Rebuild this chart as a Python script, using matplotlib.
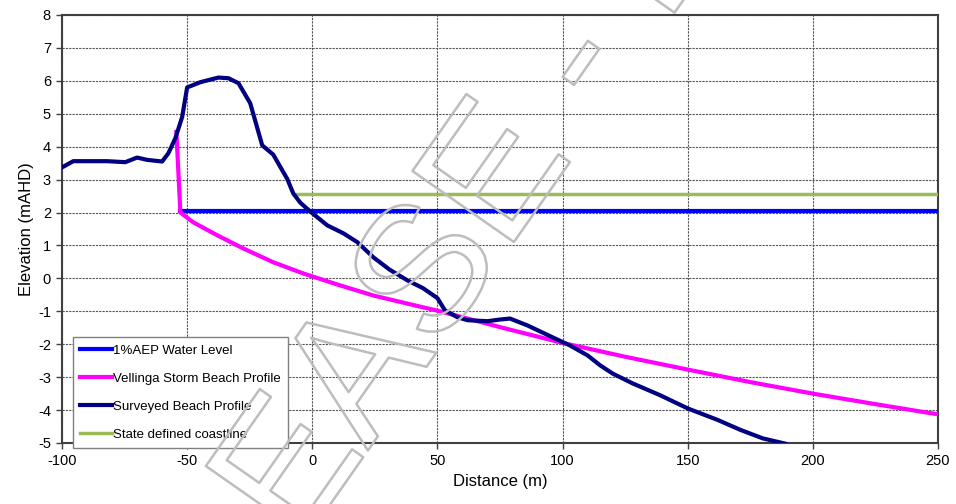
import matplotlib
matplotlib.use("Agg")
import matplotlib.pyplot as plt
import matplotlib.patheffects as pe

plt.rcParams['font.family'] = ['Liberation Sans', 'DejaVu Sans']
plt.rcParams['axes.unicode_minus'] = False

# 1% AEP storm water level and the state coastline (flat levels)
aep_x = [-52.7, 250]
aep_y = [2.05, 2.05]

coast_x = [-6.5, 250]
coast_y = [2.55, 2.55]

# Vellinga erosion profile (m, mAHD)
vell_x = [-54.3, -52.7, -47.5, -38, -27.6, -15.6, -3.6, 11, 24.4, 44.3, 50,
          75, 100, 125, 150, 175, 200, 225, 250]
vell_y = [4.45, 2.0, 1.7, 1.31, 0.91, 0.49, 0.15, -0.21, -0.52, -0.88, -0.98,
          -1.48, -1.96, -2.38, -2.77, -3.15, -3.5, -3.82, -4.13]

# surveyed beach profile (m, mAHD)
survey_x = [-100, -95.5, -82, -74.7, -70, -66, -60, -57.5, -54.7, -52, -50,
            -44.7, -37.5, -33.5, -29.5, -24.8, -20, -15.6, -10, -7.6, -4.8,
            -0.8, 6, 12.4, 18, 24.4, 31, 38, 44.3, 50, 53, 58, 62, 70, 75,
            79, 86, 96, 103, 110, 115, 120, 128, 139, 150, 162, 171, 180, 189]
survey_y = [3.37, 3.56, 3.56, 3.53, 3.67, 3.6, 3.55, 3.8, 4.26, 4.9, 5.8,
            5.96, 6.1, 6.08, 5.93, 5.32, 4.04, 3.76, 3.02, 2.58, 2.3,
            2.03, 1.61, 1.37, 1.1, 0.64, 0.26, -0.06, -0.3, -0.6, -0.97,
            -1.18, -1.27, -1.3, -1.25, -1.22, -1.43, -1.79, -2.04, -2.34,
            -2.64, -2.89, -3.19, -3.55, -3.95, -4.3, -4.6, -4.86, -5.02]

x_ticks = [-100, -50, 0, 50, 100, 150, 200, 250]
y_ticks = list(range(-5, 9))

fig = plt.figure(figsize=(9.56, 5.04), dpi=100)
ax = fig.add_axes([62/956, 61/504, 876/956, 428/504])

ax.plot(aep_x, aep_y, color='#0000ff', lw=3, label='1%AEP Water Level', zorder=3)
ax.plot(vell_x, vell_y, color='#ff00ff', lw=3, label='Vellinga Storm Beach Profile', zorder=3)
ax.plot(survey_x, survey_y, color='#000080', lw=3, label='Surveyed Beach Profile', zorder=4,
        solid_joinstyle='round')
ax.plot(coast_x, coast_y, color='#9bbb59', lw=2.5, label='State defined coastline', zorder=3)

ax.set_xlim(-100, 250)
ax.set_ylim(-5, 8)
ax.set_xticks(x_ticks)
ax.set_yticks(y_ticks)
ax.tick_params(labelsize=10.5, length=4, width=1, direction='out', color='#404040', pad=4)
ax.grid(True, color='#555555', lw=0.8, linestyle=(0, (2, 1)))
ax.set_axisbelow(True)
for s in ax.spines.values():
    s.set_color('#404040')
    s.set_linewidth(1.5)

ax.set_xlabel('Distance (m)', fontsize=12, labelpad=4)
ax.set_ylabel('Elevation (mAHD)', fontsize=12, labelpad=3)

leg = ax.legend(loc='lower left', bbox_to_anchor=(73/956, 56/504),
                bbox_transform=fig.transFigure, fontsize=9.5, handlelength=2.4,
                handletextpad=0.05, labelspacing=1.2, borderpad=0.55,
                borderaxespad=0, fancybox=False, framealpha=1)
leg.get_frame().set_edgecolor('#808080')
leg.get_frame().set_linewidth(1)

# outlined stamp across the chart
fig.text(98/956, -332/504, 'RELEASE - DRAFT', rotation=55, rotation_mode='anchor',
         ha='left', va='baseline', fontsize=129.6, family='Liberation Sans',
         color='none', zorder=10,
         path_effects=[pe.withStroke(linewidth=1.8, foreground='#bdbdbd')])

fig.savefig('out.png', dpi=100)
